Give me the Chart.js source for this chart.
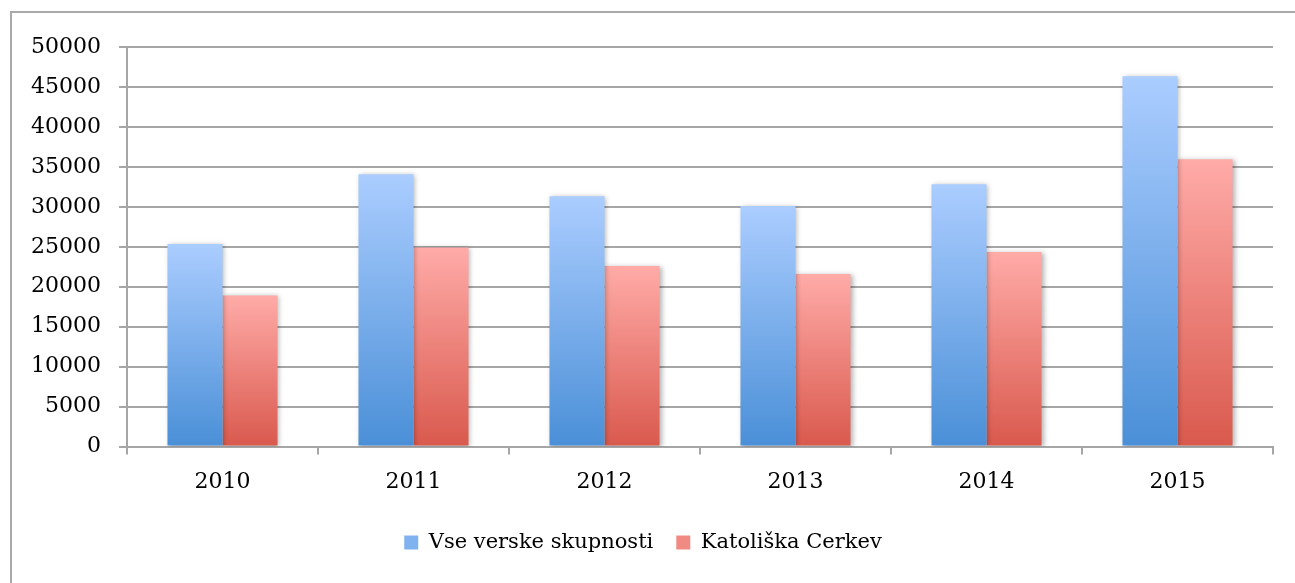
<!DOCTYPE html>
<html>
<head>
<meta charset="utf-8">
<script src="https://cdn.jsdelivr.net/npm/chart.js@4.4.1/dist/chart.umd.min.js"></script>
<style>
  html, body { margin: 0; padding: 0; background: #fff; overflow: hidden; }
  #wrap { position: relative; width: 1295px; height: 583px; overflow: hidden; }
  #frame { position: absolute; left: 10px; top: 11px; width: 1400px; height: 700px;
           border: 2px solid #a9a9a9; box-sizing: border-box; pointer-events: none; }
  canvas { position: absolute; left: 0; top: 0; }
</style>
</head>
<body>
<div id="wrap">
  <canvas id="chart" width="1295" height="583"></canvas>
  <div id="frame"></div>
</div>
<script>
const years = ['2010', '2011', '2012', '2013', '2014', '2015'];
const vseVerske = [25340, 34090, 31340, 30090, 32840, 46340];
const katoliska = [18920, 24920, 22590, 21590, 24340, 35960];
const yTicks = [0, 5000, 10000, 15000, 20000, 25000, 30000, 35000, 40000, 45000, 50000];

const fontFamily = '"DejaVu Serif", "Liberation Serif", serif';
const legendColors = ['#7fb2ee', '#f08a82'];

// each bar gets its own top-to-bottom gradient
function barGradient(top, bottom, mid) {
    return function (c) {
        const chart = c.chart;
        if (!chart.chartArea || c.type !== 'data') return mid;
        const y = chart.scales.y;
        const yTop = y.getPixelForValue(c.parsed.y);
        const yBase = y.getPixelForValue(0);
        const g = chart.ctx.createLinearGradient(0, yTop, 0, yBase);
        g.addColorStop(0, top);
        g.addColorStop(1, bottom);
        return g;
    };
}

const barShadow = {
    id: 'barShadow',
    beforeDatasetsDraw(chart) {
        const ctx = chart.ctx;
        ctx.save();
        ctx.shadowColor = 'rgba(0,0,0,0.30)';
        ctx.shadowBlur = 5;
        ctx.shadowOffsetX = 2;
        ctx.shadowOffsetY = 1;
    },
    afterDatasetsDraw(chart) {
        chart.ctx.restore();
    }
};

const canvas = document.getElementById('chart');
new Chart(canvas.getContext('2d'), {
    type: 'bar',
    data: {
        labels: years,
        datasets: [{
            label: 'Vse verske skupnosti',
            data: vseVerske,
            backgroundColor: barGradient('#abcdff', '#4a8fd7', '#7aaeea'),
            borderWidth: 0
        }, {
            label: 'Katoliška Cerkev',
            data: katoliska,
            backgroundColor: barGradient('#ffaba8', '#d9594d', '#ee8279'),
            borderWidth: 0
        }]
    },
    options: {
        responsive: false,
        animation: false,
        categoryPercentage: 0.576,
        barPercentage: 1.0,
        layout: {
            padding: { left: 13, right: 22, top: 47, bottom: 20 }
        },
        plugins: {
            legend: {
                position: 'bottom',
                labels: {
                    font: { family: fontFamily, size: 21 },
                    color: '#000',
                    boxWidth: 14,
                    boxHeight: 14,
                    padding: 23,
                    generateLabels(chart) {
                        return chart.data.datasets.map((ds, i) => ({
                            text: ds.label,
                            fillStyle: legendColors[i],
                            strokeStyle: legendColors[i],
                            lineWidth: 0,
                            fontColor: '#000',
                            hidden: false,
                            datasetIndex: i
                        }));
                    }
                }
            },
            tooltip: { enabled: false }
        },
        scales: {
            x: {
                grid: {
                    display: true,
                    drawOnChartArea: false,
                    drawTicks: true,
                    tickLength: 8,
                    color: '#a6a6a6',
                    lineWidth: 2
                },
                border: { color: '#a6a6a6', width: 2 },
                ticks: {
                    font: { family: fontFamily, size: 22 },
                    color: '#000',
                    padding: 14
                }
            },
            y: {
                min: 0,
                max: 50000,
                afterBuildTicks(axis) {
                    axis.ticks = yTicks.map(v => ({ value: v }));
                },
                grid: {
                    color: '#a6a6a6',
                    lineWidth: 2,
                    tickLength: 8
                },
                border: { color: '#a6a6a6', width: 2 },
                ticks: {
                    font: { family: fontFamily, size: 22 },
                    color: '#000',
                    padding: 18,
                    callback: v => String(v)
                }
            }
        }
    },
    plugins: [barShadow]
});
</script>
</body>
</html>
